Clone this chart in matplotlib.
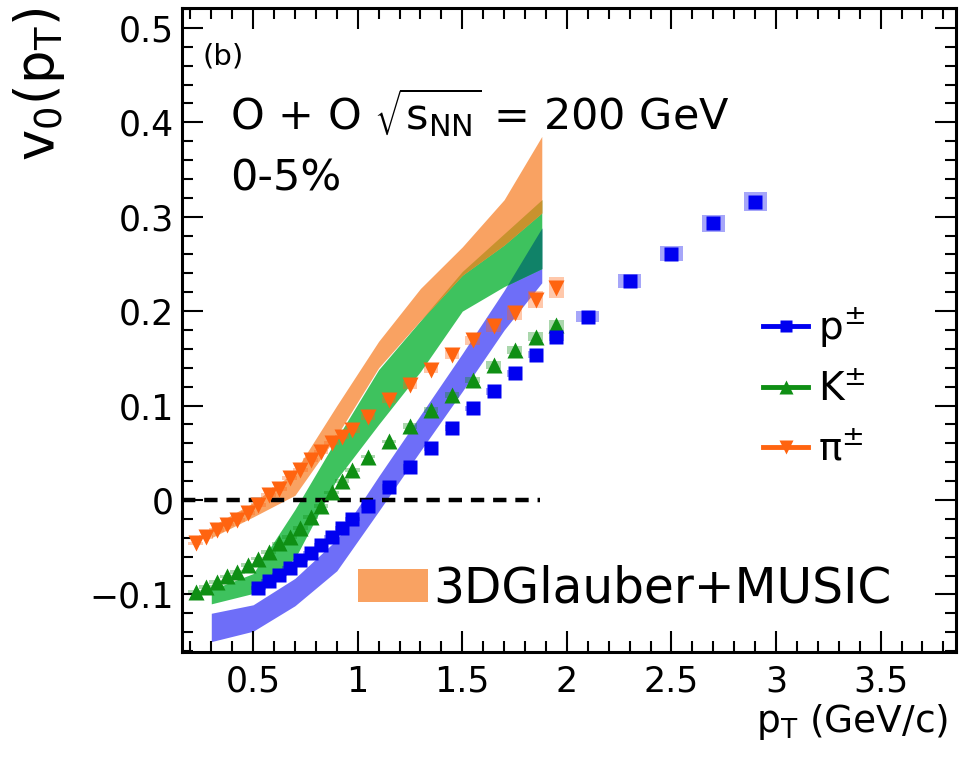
import numpy as np
import matplotlib
matplotlib.use("Agg")
import matplotlib.pyplot as plt
from matplotlib.lines import Line2D
from matplotlib.patches import Patch
from matplotlib.ticker import MultipleLocator

plt.rcParams['font.family'] = ['DejaVu Sans']
plt.rcParams['mathtext.fontset'] = 'dejavusans'

# ---- measured v0(pT), O+O 200 GeV, 0-5% ----
pt_pi = [0.225, 0.275, 0.325, 0.375, 0.425, 0.475, 0.525, 0.575, 0.625, 0.675,
         0.725, 0.775, 0.825, 0.875, 0.925, 0.975,
         1.05, 1.15, 1.25, 1.35, 1.45, 1.55, 1.65, 1.75, 1.85, 1.95]
v0_pi = [-0.046, -0.039, -0.032, -0.026, -0.021, -0.014, -0.005, 0.005, 0.012, 0.023,
         0.032, 0.042, 0.051, 0.060, 0.067, 0.074,
         0.088, 0.106, 0.122, 0.138, 0.154, 0.169, 0.184, 0.198, 0.212, 0.225]
sys_pi = [0.002, 0.002, 0.002, 0.002, 0.002, 0.002, 0.002, 0.002, 0.002, 0.002,
          0.002, 0.002, 0.002, 0.002, 0.002, 0.003,
          0.003, 0.003, 0.004, 0.004, 0.005, 0.005, 0.006, 0.007, 0.009, 0.011]

pt_k = [0.225, 0.275, 0.325, 0.375, 0.425, 0.475, 0.525, 0.575, 0.625, 0.675,
        0.725, 0.775, 0.825, 0.875, 0.925, 0.975,
        1.05, 1.15, 1.25, 1.35, 1.45, 1.55, 1.65, 1.75, 1.85, 1.95]
v0_k = [-0.097, -0.092, -0.087, -0.081, -0.076, -0.069, -0.062, -0.055, -0.046, -0.039,
        -0.030, -0.018, -0.006, 0.008, 0.020, 0.032,
        0.046, 0.062, 0.078, 0.095, 0.111, 0.127, 0.143, 0.159, 0.173, 0.185]
sys_k = [0.002, 0.002, 0.002, 0.002, 0.002, 0.002, 0.002, 0.002, 0.002, 0.002,
         0.002, 0.002, 0.002, 0.002, 0.002, 0.002,
         0.002, 0.002, 0.003, 0.003, 0.003, 0.003, 0.004, 0.004, 0.005, 0.006]

pt_p = [0.525, 0.575, 0.625, 0.675, 0.725, 0.775, 0.825, 0.875, 0.925, 0.975,
        1.05, 1.15, 1.25, 1.35, 1.45, 1.55, 1.65, 1.75, 1.85, 1.95,
        2.1, 2.3, 2.5, 2.7, 2.9]
v0_p = [-0.093, -0.086, -0.079, -0.072, -0.064, -0.056, -0.048, -0.039, -0.030, -0.020,
        -0.006, 0.014, 0.035, 0.055, 0.076, 0.097, 0.115, 0.134, 0.154, 0.173,
        0.194, 0.232, 0.261, 0.293, 0.316]
sys_p = [0.002, 0.002, 0.002, 0.002, 0.002, 0.002, 0.002, 0.002, 0.002, 0.002,
         0.002, 0.003, 0.003, 0.003, 0.003, 0.003, 0.004, 0.004, 0.004, 0.005,
         0.006, 0.007, 0.008, 0.009, 0.010]

# ---- 3DGlauber+MUSIC bands ----
pt_model = [0.3, 0.5, 0.7, 0.9, 1.1, 1.3, 1.5, 1.7, 1.88]
pi_lo = [-0.040, -0.018, 0.005, 0.068, 0.140, 0.190, 0.238, 0.270, 0.304]
pi_hi = [-0.028, -0.003, 0.030, 0.100, 0.168, 0.224, 0.268, 0.318, 0.385]
k_lo = [-0.110, -0.099, -0.062, 0.022, 0.080, 0.136, 0.200, 0.226, 0.245]
k_hi = [-0.095, -0.078, -0.010, 0.065, 0.138, 0.190, 0.242, 0.282, 0.318]
p_lo = [-0.150, -0.139, -0.112, -0.075, -0.012, 0.052, 0.115, 0.180, 0.230]
p_hi = [-0.120, -0.111, -0.083, -0.042, 0.025, 0.090, 0.155, 0.222, 0.288]

C_PI, C_K, C_P = '#ff6410', '#0f8f14', '#0000f0'
B_PI, B_K, B_P = '#f9a262', '#3ec25e', '#6e6ef8'
OV_PIK, OV_KP = '#c8922e', '#108268'

fig = plt.figure(figsize=(9.66, 7.57), dpi=100)
ax = fig.add_axes([0.1884, 0.1387, 0.8012, 0.8507])

x = np.array(pt_model)
for lo, hi, c in [(p_lo, p_hi, B_P), (k_lo, k_hi, B_K), (pi_lo, pi_hi, B_PI)]:
    ax.fill_between(x, lo, hi, color=c, lw=0, zorder=1)


def overlap(lo1, hi1, lo2, hi2, color):
    lo = np.maximum(lo1, lo2)
    hi = np.minimum(hi1, hi2)
    ax.fill_between(x, lo, hi, where=hi > lo, interpolate=True,
                    color=color, lw=0, zorder=2)


overlap(np.array(k_lo), np.array(k_hi), np.array(p_lo), np.array(p_hi), OV_KP)
overlap(np.array(pi_lo), np.array(pi_hi), np.array(k_lo), np.array(k_hi), OV_PIK)

# zero reference
ax.hlines(0.0, 0.16, 1.87, colors='black', linestyles=(0, (3, 2)), lw=3.2, zorder=3)


def sys_boxes(pt, v, s, color):
    pt = np.array(pt); v = np.array(v); s = np.array(s)
    w = np.where(pt > 2.0, 0.11, 0.07)
    ax.bar(pt, 2 * s, bottom=v - s, width=w, color=color, alpha=0.35,
           lw=0, zorder=4)


sys_boxes(pt_pi, v0_pi, sys_pi, C_PI)
sys_boxes(pt_k, v0_k, sys_k, C_K)
sys_boxes(pt_p, v0_p, sys_p, C_P)

MS_TRI, MS_SQ = 12, 10.5
ax.plot(pt_pi, v0_pi, ls='none', marker='v', ms=MS_TRI, color=C_PI, mec='none', zorder=5)
ax.plot(pt_k, v0_k, ls='none', marker='^', ms=MS_TRI, color=C_K, mec='none', zorder=5)
ax.plot(pt_p, v0_p, ls='none', marker='s', ms=MS_SQ, color=C_P, mec='none', zorder=5)

ax.set_xlim(0.16, 3.86)
ax.set_ylim(-0.161, 0.521)

ax.xaxis.set_minor_locator(MultipleLocator(0.1))
ax.yaxis.set_minor_locator(MultipleLocator(0.02))
ax.set_xticks([0.5, 1, 1.5, 2, 2.5, 3, 3.5])
ax.set_xticklabels(['0.5', '1', '1.5', '2', '2.5', '3', '3.5'])
ax.set_yticks([-0.1, 0, 0.1, 0.2, 0.3, 0.4, 0.5])
ax.set_yticklabels(['\u22120.1', '0', '0.1', '0.2', '0.3', '0.4', '0.5'])

ax.tick_params(which='both', direction='in', top=True, right=True, width=1.5,
               labelsize=25)
ax.tick_params(which='major', length=15)
ax.tick_params(which='minor', length=8)
ax.tick_params(axis='x', pad=9)
ax.tick_params(axis='y', pad=6)
for sp in ax.spines.values():
    sp.set_linewidth(2.2)

ax.set_xlabel(r'p$_{\mathrm{T}}$ (GeV/c)', fontsize=27, ha='right', va='center')
ax.xaxis.set_label_coords(0.990, -0.109)
ax.set_ylabel(r'v$_{0}$(p$_{\mathrm{T}}$)', fontsize=38)
ax.yaxis.label.set(rotation_mode='default', ha='center', va='top')
ax.yaxis.set_label_coords(-0.185, 1.0)

ax.text(0.026, 0.924, '(b)', transform=ax.transAxes, fontsize=21,
        ha='left', va='center')
ax.text(0.062, 0.8106, r'O + O $\sqrt{\mathrm{s}_{\mathrm{NN}}}$ = 200 GeV',
        transform=ax.transAxes, fontsize=31, ha='left', va='baseline')
ax.text(0.062, 0.717, '0-5%', transform=ax.transAxes, fontsize=31,
        ha='left', va='baseline')

handles = [
    Line2D([], [], color=C_P, lw=3.5, marker='s', ms=9, mec='none'),
    Line2D([], [], color=C_K, lw=3.5, marker='^', ms=10, mec='none'),
    Line2D([], [], color=C_PI, lw=3.5, marker='v', ms=10, mec='none'),
]
leg1 = ax.legend(handles, [r'p$^{\pm}$', r'K$^{\pm}$', '\u03c0' + r'$^{\pm}$'],
                 loc='center left', bbox_to_anchor=(0.751, 0.4115), frameon=False,
                 fontsize=28, handlelength=1.15, handletextpad=0.25,
                 labelspacing=0.55, borderpad=0, borderaxespad=0)
ax.add_artist(leg1)

ax.legend([Patch(facecolor=B_PI, edgecolor='none')], ['3DGlauber+MUSIC'],
          loc='center left', bbox_to_anchor=(0.227, 0.099), frameon=False,
          fontsize=35, handlelength=1.45, handleheight=0.66,
          handletextpad=0.1, borderpad=0, borderaxespad=0)

fig.savefig('out.png', dpi=100)
